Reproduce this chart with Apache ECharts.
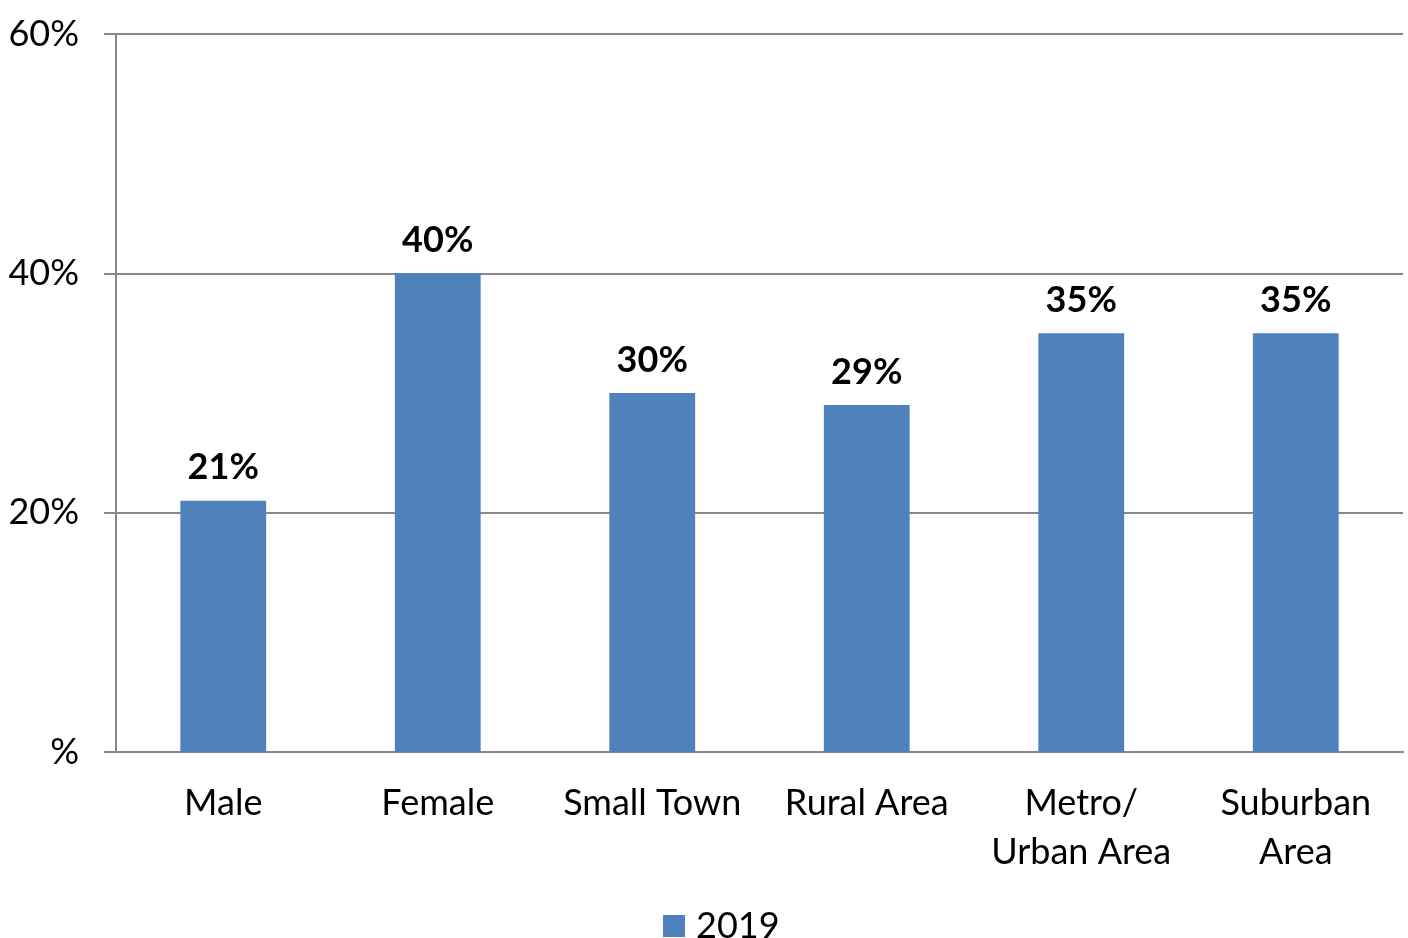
<!DOCTYPE html>
<html>
<head>
<meta charset="utf-8">
<script src="https://cdn.jsdelivr.net/npm/echarts@6/dist/echarts.min.js"></script>
<style>
  html, body { margin: 0; padding: 0; background: #fff; }
  #container { width: 1408px; height: 938px; }
</style>
</head>
<body>
<div id="container"></div>
<script>
var categories = ['Male', 'Female', 'Small Town', 'Rural Area', 'Metro/\nUrban Area', 'Suburban\nArea'];
var values2019 = [21, 40, 30, 29, 35, 35];
var yTicks = [0, 20, 40, 60];

var fontName = 'Lato';
var myChart = echarts.init(document.getElementById('container'));

var option = {
	animation: false,
	grid: {
		left: 116,
		right: 5,
		top: 34,
		bottom: 186
	},
	legend: {
		bottom: -11,
		left: 658,
		itemWidth: 22,
		itemHeight: 22,
		icon: 'rect',
		textStyle: { fontFamily: fontName, fontSize: 36, color: '#000', padding: [0, 0, 0, 6] },
		data: ['2019']
	},
	xAxis: {
		type: 'category',
		data: categories,
		axisLine: { lineStyle: { color: '#888', width: 2 } },
		axisTick: { show: false },
		axisLabel: {
			fontFamily: fontName,
			fontSize: 36,
			color: '#000',
			margin: 27,
			lineHeight: 49,
			interval: 0
		}
	},
	yAxis: {
		type: 'value',
		min: yTicks[0],
		max: yTicks[yTicks.length - 1],
		interval: 20,
		axisLine: { show: true, lineStyle: { color: '#888', width: 2 } },
		axisTick: { show: true, length: 12, lineStyle: { color: '#888', width: 2 } },
		splitLine: { lineStyle: { color: '#888', width: 2 } },
		axisLabel: {
			fontFamily: fontName,
			fontSize: 36,
			color: '#000',
			margin: 37,
			formatter: function(v) {
				return v === 0 ? '%' : v + '%';
			}
		}
	},
	series: [{
		name: '2019',
		type: 'bar',
		data: values2019,
		barWidth: '40%',
		itemStyle: { color: '#4F81BD' },
		label: {
			show: true,
			position: 'top',
			distance: 15,
			fontFamily: fontName,
			fontSize: 36,
			fontWeight: 'bold',
			color: '#000',
			formatter: '{c}%'
		}
	}]
};
myChart.setOption(option, true);
</script>
</body>
</html>
